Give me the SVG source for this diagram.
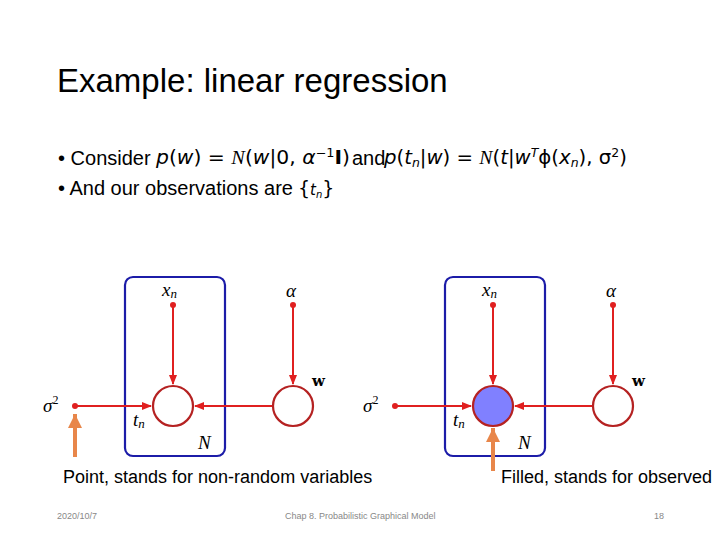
<svg xmlns="http://www.w3.org/2000/svg" width="720" height="540" viewBox="0 0 720 540">
<style>
.title{font-family:"Liberation Sans",Arial,sans-serif;font-size:33px;fill:#000}
.body{font-family:"Liberation Sans",Arial,sans-serif;font-size:20px;fill:#000}
.cap{font-family:"Liberation Sans",Arial,sans-serif;font-size:18px;fill:#000}
.math{font-family:"DejaVu Sans","Liberation Sans",sans-serif;font-size:19px;fill:#000}
.mi{font-style:italic}
.cal{font-family:"Liberation Serif",serif;font-style:italic}
.lbl{font-family:"Liberation Serif","DejaVu Serif",serif;font-size:19px;font-style:italic;fill:#000}
.bold{font-family:"DejaVu Serif","Liberation Serif",serif;font-size:15px;font-weight:bold;fill:#000}
.foot{font-family:"Liberation Sans",Arial,sans-serif;font-size:9px;fill:#888}
.plate{fill:none;stroke:#1c1ca8;stroke-width:2.2}
.node{fill:#fff;stroke:#b52222;stroke-width:2.2}
.obs{fill:#8080ff;stroke:#b52222;stroke-width:2.2}
.edge{stroke:#e02020;stroke-width:2;fill:none}
.dot{fill:#e02020}
.oa{stroke:#e8864a;stroke-width:4;fill:none}
</style>
<defs>
<marker id="ah" markerWidth="10" markerHeight="10" refX="9" refY="5" orient="auto" markerUnits="userSpaceOnUse">
<path d="M0,1 L10,5 L0,9 Z" fill="#e02020"/>
</marker>
<marker id="oh" markerWidth="16" markerHeight="16" refX="14" refY="8" orient="auto" markerUnits="userSpaceOnUse">
<path d="M0,1 L14,8 L0,15 Z" fill="#e8864a"/>
</marker>
</defs>
<rect width="720" height="540" fill="#fff"/>
<text class="title" x="57" y="92">Example: linear regression</text>
<text class="body" x="58" y="165">• Consider</text>
<text class="math" x="156" y="164" textLength="194" lengthAdjust="spacingAndGlyphs"><tspan class="mi">p</tspan>(<tspan class="mi">w</tspan>) = <tspan class="cal">N</tspan>(<tspan class="mi">w</tspan>|0, <tspan class="mi">α</tspan><tspan dy="-7" font-size="12">−1</tspan><tspan dy="7" font-weight="bold">I</tspan>)</text>
<text class="body" x="352" y="165">and</text>
<text class="math" x="384" y="164" textLength="243" lengthAdjust="spacingAndGlyphs"><tspan class="mi">p</tspan>(<tspan class="mi">t</tspan><tspan class="mi" font-size="12" dy="3">n</tspan><tspan dy="-3">|</tspan><tspan class="mi">w</tspan>) = <tspan class="cal">N</tspan>(<tspan class="mi">t</tspan>|<tspan class="mi">w</tspan><tspan class="mi" dy="-7" font-size="12">T</tspan><tspan dy="7">ϕ(</tspan><tspan class="mi">x</tspan><tspan class="mi" font-size="12" dy="3">n</tspan><tspan dy="-3">), σ</tspan><tspan dy="-7" font-size="12">2</tspan><tspan dy="7">)</tspan></text>
<text class="body" x="58" y="195">• And our observations are</text>
<text class="math" x="298" y="195">{<tspan class="mi" font-size="15">t</tspan><tspan class="mi" font-size="10" dy="3">n</tspan><tspan dy="-3">}</tspan></text>

<g id="left-plate"><rect class="plate" x="125" y="277" width="100" height="179" rx="8"/><text class="lbl" x="198" y="449">N</text></g>
<g id="left-connectors">
<line class="edge" x1="173" y1="305" x2="173" y2="384" marker-end="url(#ah)"/>
<line class="edge" x1="293" y1="305" x2="293" y2="384" marker-end="url(#ah)"/>
<line class="edge" x1="75" y1="406" x2="151" y2="406" marker-end="url(#ah)"/>
<line class="edge" x1="273" y1="406" x2="195" y2="406" marker-end="url(#ah)"/>
</g>
<g id="left-xn"><circle class="dot" cx="173" cy="305" r="3"/><text class="lbl" x="162" y="296">x<tspan font-size="13" dy="2">n</tspan></text></g>
<g id="left-alpha"><circle class="dot" cx="293" cy="305" r="3"/><text class="lbl" x="286" y="297">α</text></g>
<g id="left-sigma"><circle class="dot" cx="75" cy="406" r="3"/><text class="lbl" x="43" y="412" font-size="21">σ<tspan font-size="12" dy="-8" font-style="normal">2</tspan></text></g>
<g id="left-tn"><circle class="node" cx="173" cy="406" r="20"/><text class="lbl" x="133" y="426">t<tspan font-size="13" dy="2">n</tspan></text></g>
<g id="left-w"><circle class="node" cx="293" cy="406" r="20"/><text class="bold" x="312" y="386">w</text></g>
<g id="left-arrow"><line class="oa" x1="75" y1="457" x2="75" y2="414" marker-end="url(#oh)"/></g>

<g id="right-plate"><rect class="plate" x="445" y="277" width="100" height="179" rx="8"/><text class="lbl" x="518" y="449">N</text></g>
<g id="right-connectors">
<line class="edge" x1="493" y1="305" x2="493" y2="384" marker-end="url(#ah)"/>
<line class="edge" x1="613" y1="305" x2="613" y2="384" marker-end="url(#ah)"/>
<line class="edge" x1="395" y1="406" x2="471" y2="406" marker-end="url(#ah)"/>
<line class="edge" x1="593" y1="406" x2="515" y2="406" marker-end="url(#ah)"/>
</g>
<g id="right-xn"><circle class="dot" cx="493" cy="305" r="3"/><text class="lbl" x="482" y="296">x<tspan font-size="13" dy="2">n</tspan></text></g>
<g id="right-alpha"><circle class="dot" cx="613" cy="305" r="3"/><text class="lbl" x="606" y="297">α</text></g>
<g id="right-sigma"><circle class="dot" cx="395" cy="406" r="3"/><text class="lbl" x="363" y="412" font-size="21">σ<tspan font-size="12" dy="-8" font-style="normal">2</tspan></text></g>
<g id="right-tn"><circle class="obs" cx="493" cy="406" r="20"/><text class="lbl" x="453" y="426">t<tspan font-size="13" dy="2">n</tspan></text></g>
<g id="right-w"><circle class="node" cx="613" cy="406" r="20"/><text class="bold" x="632" y="386">w</text></g>
<g id="right-arrow"><line class="oa" x1="493" y1="471" x2="493" y2="428" marker-end="url(#oh)"/></g>

<text class="cap" x="63" y="483">Point, stands for non-random variables</text>
<text class="cap" x="501" y="483">Filled, stands for observed</text>
<text class="foot" x="57" y="519">2020/10/7</text>
<text class="foot" x="285" y="519">Chap 8. Probabilistic Graphical Model</text>
<text class="foot" x="654" y="519">18</text>
</svg>
